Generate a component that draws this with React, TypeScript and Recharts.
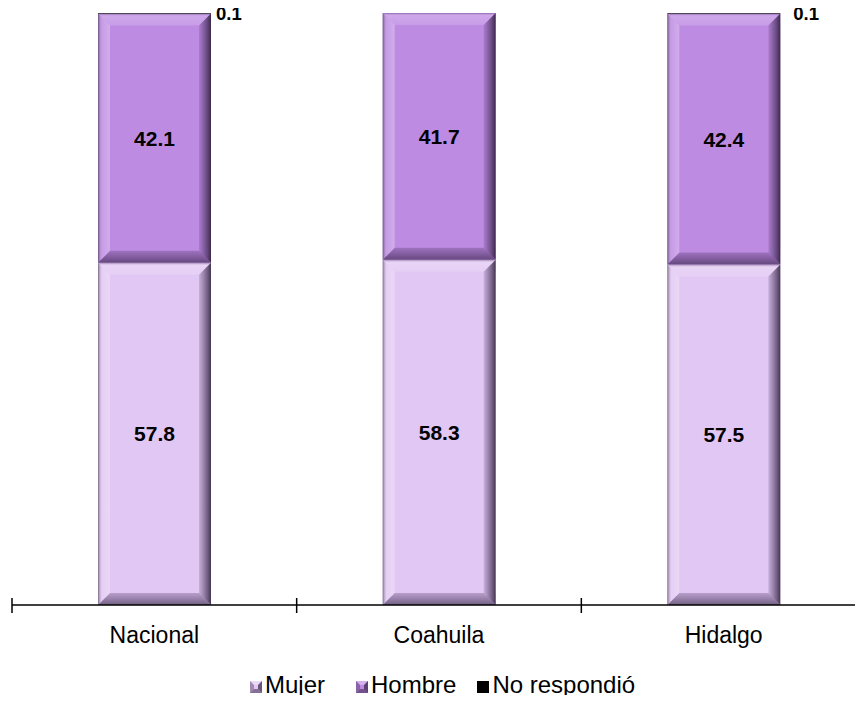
import React from "react";
import { BarChart, Bar, XAxis, YAxis, Legend, LabelList } from "recharts";

const categories = ["Nacional", "Coahuila", "Hidalgo"];
const mujer = [57.8, 58.3, 57.5];
const hombre = [42.1, 41.7, 42.4];
const noRespondio = [0.1, 0, 0.1];

const data = categories.map((name, i) => ({
  name,
  Mujer: mujer[i],
  Hombre: hombre[i],
  "No respondió": noRespondio[i],
}));

const FONT = '"Liberation Sans", Arial, Helvetica, sans-serif';
const COLORS: Record<string, string> = {
  Mujer: "#E1C7F3",
  Hombre: "#BE8BE3",
  "No respondió": "#000000",
};

const makeBevel = (key: string) => (props: any) => {
  const { x, y, width, height, index } = props;
  if (!height || height <= 0 || !width) return <g />;
  const color = COLORS[key];
  const id = `${key.replace(/[^a-zA-Z]/g, "")}-${index}`;
  const b = Math.min(12, height / 2.5, width / 2.5);
  if (height < 2) {
    return <rect x={x} y={y} width={width} height={height} fill={color} />;
  }
  const x2 = x + width;
  const y2 = y + height;
  return (
    <g>
      <defs>
        <linearGradient id={`l-${id}`} x1="0" y1="0" x2="1" y2="0">
          <stop offset="0" stopColor="#2a1a38" stopOpacity={0.55} />
          <stop offset="0.35" stopColor="#ffffff" stopOpacity={0.15} />
          <stop offset="1" stopColor="#ffffff" stopOpacity={0.3} />
        </linearGradient>
        <linearGradient id={`r-${id}`} x1="0" y1="0" x2="1" y2="0">
          <stop offset="0" stopColor="#3a2550" stopOpacity={0.15} />
          <stop offset="0.7" stopColor="#2a1a38" stopOpacity={0.6} />
          <stop offset="1" stopColor="#1a1025" stopOpacity={0.8} />
        </linearGradient>
        <linearGradient id={`b-${id}`} x1="0" y1="0" x2="0" y2="1">
          <stop offset="0" stopColor="#3a2550" stopOpacity={0.25} />
          <stop offset="1" stopColor="#2a1a38" stopOpacity={0.6} />
        </linearGradient>
        <linearGradient id={`t-${id}`} x1="0" y1="0" x2="0" y2="1">
          <stop offset="0" stopColor="#5a3a70" stopOpacity={0.45} />
          <stop offset="0.2" stopColor="#ffffff" stopOpacity={0.25} />
          <stop offset="1" stopColor="#ffffff" stopOpacity={0.15} />
        </linearGradient>
      </defs>
      <rect x={x} y={y} width={width} height={height} fill={color} />
      <polygon
        points={`${x},${y} ${x2},${y} ${x2 - b},${y + b} ${x + b},${y + b}`}
        fill={`url(#t-${id})`}
      />
      <polygon
        points={`${x},${y2} ${x2},${y2} ${x2 - b},${y2 - b} ${x + b},${y2 - b}`}
        fill={`url(#b-${id})`}
      />
      <polygon
        points={`${x},${y} ${x + b},${y + b} ${x + b},${y2 - b} ${x},${y2}`}
        fill={`url(#l-${id})`}
      />
      <polygon
        points={`${x2},${y} ${x2 - b},${y + b} ${x2 - b},${y2 - b} ${x2},${y2}`}
        fill={`url(#r-${id})`}
      />
    </g>
  );
};

const BAND = 854 / 3;

const CategoryTick = (props: any) => {
  const { x, y, payload, index } = props;
  const half = BAND / 2;
  return (
    <g>
      {index === 0 && (
        <line x1={x - half} x2={x - half} y1={y - 7} y2={y + 8} stroke="#000" strokeWidth={1.5} />
      )}
      <line x1={x + half} x2={x + half} y1={y - 7} y2={y + 8} stroke="#000" strokeWidth={1.5} />
      <text
        x={x}
        y={y + 38}
        textAnchor="middle"
        fontFamily={FONT}
        fontSize={23}
        fill="#000"
      >
        {payload.value}
      </text>
    </g>
  );
};

const NO_RESP_DX = [5, 5, 13];

const NoRespLabel = (props: any) => {
  const { x, y, width, value, index } = props;
  if (!value) return null;
  return (
    <text
      x={x + width + NO_RESP_DX[index]}
      y={y + 6.5}
      fontFamily={FONT}
      fontSize={18.5}
      fontWeight="bold"
      fill="#000"
    >
      {value}
    </text>
  );
};

const LegendIcon = ({ k }: { k: string }) => {
  const c = COLORS[k];
  const s = 12;
  if (k === "No respondió") {
    return (
      <svg width={s} height={s} style={{ display: "block", position: "relative", top: 2 }}>
        <rect x={0} y={0} width={s} height={s} fill="#000" />
      </svg>
    );
  }
  return (
    <svg width={s} height={s} style={{ display: "block", position: "relative", top: 2 }}>
      <rect x={0} y={0} width={s} height={s} fill={c} />
      <polygon points="0,0 12,0 8,4 4,4" fill="#ffffff" fillOpacity={0.35} />
      <polygon points="0,12 12,12 8,8 4,8" fill="#2a1a38" fillOpacity={0.5} />
      <polygon points="0,0 4,4 4,8 0,12" fill="#2a1a38" fillOpacity={0.35} />
      <polygon points="12,0 8,4 8,8 12,12" fill="#2a1a38" fillOpacity={0.65} />
    </svg>
  );
};

const LEGEND_GAPS = [31, 21, 0];

const LegendContent = () => {
  const keys = ["Mujer", "Hombre", "No respondió"];
  return (
    <div
      style={{
        display: "flex",
        flexDirection: "row",
        alignItems: "center",
        whiteSpace: "nowrap",
        fontFamily: FONT,
        fontSize: 24,
        lineHeight: "26px",
        color: "#000",
      }}
    >
      {keys.map((k, i) => (
        <div
          key={k}
          style={{
            display: "flex",
            alignItems: "center",
            marginRight: LEGEND_GAPS[i],
          }}
        >
          <LegendIcon k={k} />
          <span style={{ marginLeft: 3 }}>{k}</span>
        </div>
      ))}
    </div>
  );
};

export default function App() {
  return (
    <div
      style={{
        margin: -8,
        width: 863,
        height: 703,
        overflow: "hidden",
        background: "#fff",
        position: "relative",
      }}
    >
      <BarChart
        width={866}
        height={703}
        data={data}
        margin={{ top: 13, right: 0, left: 12, bottom: 0 }}
        barSize={113}
      >
        <XAxis
          dataKey="name"
          height={98}
          axisLine={{ stroke: "#000", strokeWidth: 1.5 }}
          tickLine={false}
          tickSize={0}
          tickMargin={0}
          interval={0}
          tick={<CategoryTick />}
        />
        <YAxis hide domain={[0, 100]} type="number" allowDataOverflow />
        <Legend
          layout="horizontal"
          verticalAlign="middle"
          align="center"
          wrapperStyle={{ top: 672, left: 250, width: "auto" }}
          content={<LegendContent />}
        />
        <Bar dataKey="Mujer" stackId="a" isAnimationActive={false} shape={makeBevel("Mujer")}>
          <LabelList
            dataKey="Mujer"
            position="center"
            style={{ fontFamily: FONT, fontSize: 21, fontWeight: "bold", fill: "#000" }}
          />
        </Bar>
        <Bar dataKey="Hombre" stackId="a" isAnimationActive={false} shape={makeBevel("Hombre")}>
          <LabelList
            dataKey="Hombre"
            position="center"
            style={{ fontFamily: FONT, fontSize: 21, fontWeight: "bold", fill: "#000" }}
          />
        </Bar>
        <Bar
          dataKey="No respondió"
          stackId="a"
          isAnimationActive={false}
          shape={makeBevel("No respondió")}
        >
          <LabelList dataKey="No respondió" content={<NoRespLabel />} />
        </Bar>
      </BarChart>
    </div>
  );
}
